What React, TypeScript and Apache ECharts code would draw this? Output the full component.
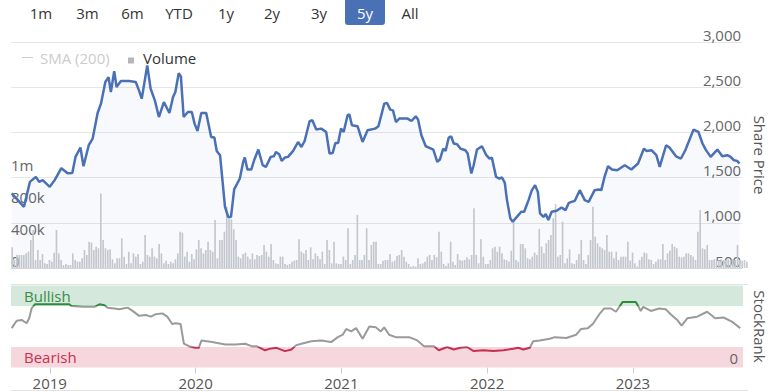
import React, { useEffect, useRef } from "react";
import * as echarts from "echarts";

const FONT = '"Open Sans", "Noto Sans", sans-serif';

// ---------- data ----------
const rangeButtons = ["1m", "3m", "6m", "YTD", "1y", "2y", "3y", "5y", "All"];
const selectedRange = "5y";
const yearTicks = [2019, 2020, 2021, 2022, 2023];
const volumeTickLabels = ["0", "400k", "800k", "1m"];

// dates as decimal years
const priceDates = [
  2018.739, 2018.823, 2018.864, 2018.905, 2018.927, 2018.952, 2019.0, 2019.034, 2019.08, 2019.123,
  2019.155, 2019.177, 2019.211, 2019.232, 2019.268, 2019.295, 2019.329, 2019.352, 2019.382, 2019.404,
  2019.42, 2019.443, 2019.459, 2019.489, 2019.545, 2019.591, 2019.613, 2019.632, 2019.67, 2019.693,
  2019.722, 2019.75, 2019.784, 2019.822, 2019.847, 2019.863, 2019.886, 2019.901, 2019.92, 2019.949,
  2019.976, 2019.995, 2020.015, 2020.041, 2020.075, 2020.109, 2020.131, 2020.147, 2020.17, 2020.204,
  2020.227, 2020.245, 2020.267, 2020.306, 2020.329, 2020.34, 2020.358, 2020.385, 2020.404, 2020.433,
  2020.463, 2020.485, 2020.518, 2020.54, 2020.554, 2020.576, 2020.593, 2020.615, 2020.637, 2020.672,
  2020.706, 2020.729, 2020.751, 2020.785, 2020.804, 2020.831, 2020.865, 2020.899, 2020.922, 2020.944,
  2020.962, 2020.981, 2021.001, 2021.019, 2021.046, 2021.058, 2021.076, 2021.115, 2021.149, 2021.183,
  2021.235, 2021.258, 2021.298, 2021.317, 2021.339, 2021.358, 2021.378, 2021.401, 2021.458, 2021.485,
  2021.514, 2021.53, 2021.553, 2021.583, 2021.605, 2021.635, 2021.662, 2021.68, 2021.703, 2021.719,
  2021.741, 2021.758, 2021.775, 2021.798, 2021.821, 2021.855, 2021.871, 2021.896, 2021.912, 2021.935,
  2021.969, 2021.999, 2022.021, 2022.037, 2022.066, 2022.089, 2022.107, 2022.126, 2022.141, 2022.164,
  2022.18, 2022.209, 2022.239, 2022.259, 2022.289, 2022.312, 2022.334, 2022.353, 2022.368, 2022.391,
  2022.407, 2022.425, 2022.448, 2022.482, 2022.516, 2022.543, 2022.566, 2022.584, 2022.607, 2022.641,
  2022.675, 2022.702, 2022.743, 2022.77, 2022.789, 2022.811, 2022.835, 2022.862, 2022.898, 2022.95,
  2022.995, 2023.041, 2023.082, 2023.099, 2023.133, 2023.167, 2023.19, 2023.234, 2023.257, 2023.302,
  2023.336, 2023.366, 2023.422, 2023.456, 2023.484, 2023.506, 2023.54, 2023.586, 2023.62, 2023.654,
  2023.677, 2023.7, 2023.722, 2023.738,
];
const priceValues = [
  1325, 1177, 1453, 1508, 1453, 1472, 1398, 1472, 1604, 1549,
  1552, 1729, 1833, 1626, 1858, 1932, 2215, 2318, 2557, 2612,
  2446, 2678, 2502, 2568, 2568, 2557, 2465, 2373, 2741, 2484,
  2355, 2170, 2336, 2215, 2391, 2446, 2656, 2620, 2170, 2226,
  2226, 2097, 2016, 2215, 2215, 1950, 1943, 1795, 1748, 1177,
  1060, 1066, 1369, 1490, 1674, 1722, 1590, 1590, 1692, 1810,
  1637, 1618, 1729, 1736, 1784, 1759, 1685, 1722, 1729, 1795,
  1894, 1839, 1905, 2123, 2134, 2031, 2042, 2005, 1766, 1773,
  1883, 1883, 2042, 2005, 2189, 2200, 2079, 2068, 1894, 2024,
  2042, 2068, 2318, 2325, 2252, 2244, 2115, 2153, 2153, 2126,
  2178, 2142, 1968, 1847, 1832, 1810, 1674, 1700, 1821, 1795,
  1943, 1957, 1877, 1869, 1821, 1803, 1766, 1545, 1637, 1810,
  1847, 1748, 1711, 1722, 1508, 1490, 1501, 1442, 1251, 1049,
  1011, 1066, 1122, 1122, 1251, 1361, 1416, 1342, 1104, 1066,
  1096, 1030, 1122, 1133, 1170, 1140, 1221, 1232, 1243, 1361,
  1251, 1232, 1361, 1369, 1361, 1508, 1626, 1590, 1582, 1637,
  1590, 1656, 1821, 1795, 1803, 1748, 1618, 1858, 1832, 1736,
  1711, 1803, 2031, 2005, 1877, 1810, 1729, 1810, 1736, 1748,
  1729, 1692, 1685, 1656,
];

// weekly volume, in thousands of shares
const volumeK = [
  260, 100, 163, 163, 163, 163, 183, 204, 350, 475, 100, 225, 100, 175, 58, 50, 100, 79, 192, 475,
  183, 100, 38, 50, 38, 38, 183, 100, 79, 79, 121, 225, 163, 329, 317, 225, 267, 246, 933, 350,
  246, 225, 233, 108, 58, 121, 121, 371, 142, 50,
  204, 58, 183, 142, 175, 50, 79, 413, 163, 142, 246, 142, 121, 300, 183, 58, 92, 50, 79, 58,
  108, 183, 454, 442, 142, 204, 79, 175, 108, 233, 350, 246, 183, 225, 329, 225, 204, 600, 121, 350,
  350, 454, 767, 608, 608, 483, 350, 142, 121, 175, 192, 142, 108, 183,
  108, 163, 150, 163, 288, 204, 142, 300, 100, 58, 50, 142, 142, 50, 38, 50, 79, 92, 100, 358,
  204, 183, 225, 100, 258, 108, 183, 150, 108, 204, 50, 350, 225, 58, 329, 58, 50, 50, 142, 100,
  496, 50, 100, 163, 663, 100, 100, 163, 496, 100, 288, 329,
  329, 50, 50, 92, 100, 100, 175, 79, 92, 150, 163, 225, 142, 79, 50, 17, 25, 17, 121, 50,
  58, 79, 142, 163, 100, 163, 133, 454, 204, 50, 25, 58, 329, 79, 38, 175, 100, 92, 100, 133,
  108, 163, 746, 163, 58, 358, 142, 50, 50, 100, 246, 267, 204,
  267, 183, 108, 100, 79, 217, 600, 100, 79, 300, 300, 246, 121, 108, 142, 192, 163, 488, 267, 183,
  308, 350, 413, 621, 800, 142, 163, 579, 58, 121, 233, 58, 50, 100, 175, 350, 100, 50, 163, 350,
  767, 392, 308, 267, 246, 225, 413, 204, 204, 121, 204, 100, 142, 142,
  142, 329, 92, 192, 58, 17, 100, 142, 192, 183, 108, 100, 50, 79, 108, 108, 300, 100, 183, 217,
  300, 267, 246, 142, 133, 142, 183, 183, 163, 142, 100, 454, 725, 246, 233, 288, 100, 100, 108, 108,
  100, 108, 100, 100, 108, 100, 108, 100, 288, 100, 92, 100, 79,
];

const rankDates = [
  2018.739, 2018.773, 2018.807, 2018.841, 2018.859, 2018.875, 2018.898, 2018.978, 2019.057, 2019.136,
  2019.148, 2019.227, 2019.307, 2019.341, 2019.375, 2019.397, 2019.443, 2019.477, 2019.534, 2019.568,
  2019.613, 2019.659, 2019.693, 2019.727, 2019.772, 2019.806, 2019.84, 2019.863, 2019.897, 2019.92,
  2019.954, 2019.999, 2020.022, 2020.041, 2020.113, 2020.204, 2020.272, 2020.34, 2020.385, 2020.419,
  2020.477, 2020.511, 2020.556, 2020.613, 2020.658, 2020.688, 2020.726, 2020.794, 2020.862, 2020.93,
  2020.976, 2021.01, 2021.033, 2021.067, 2021.101, 2021.146, 2021.192, 2021.237, 2021.271, 2021.294,
  2021.328, 2021.373, 2021.465, 2021.521, 2021.567, 2021.635, 2021.669, 2021.726, 2021.771, 2021.816,
  2021.862, 2021.908, 2021.976, 2022.044, 2022.112, 2022.18, 2022.214, 2022.248, 2022.293, 2022.316,
  2022.361, 2022.43, 2022.464, 2022.543, 2022.611, 2022.645, 2022.691, 2022.725, 2022.77, 2022.804,
  2022.85, 2022.884, 2022.93, 2022.975, 2023.02, 2023.039, 2023.054, 2023.071, 2023.123, 2023.179,
  2023.225, 2023.259, 2023.304, 2023.334, 2023.373, 2023.441, 2023.509, 2023.565, 2023.622, 2023.679,
  2023.736,
];
const rankValues = [
  48, 57, 58, 54, 60, 72, 77, 77, 77, 77,
  75, 74, 74, 77, 76, 73, 72, 71, 73, 69,
  63, 64, 62, 65, 66, 62, 53, 54, 53, 29,
  26, 24, 24, 33, 31, 28, 28, 29, 26, 26,
  21, 23, 24, 20, 22, 27, 29, 32, 33, 31,
  37, 40, 47, 44, 48, 35, 50, 49, 44, 49,
  40, 37, 37, 33, 26, 26, 21, 25, 22, 24,
  25, 20, 21, 20, 21, 23, 24, 22, 24, 32,
  33, 35, 37, 36, 40, 47, 48, 53, 65, 72,
  72, 68, 80, 80, 80, 74, 69, 74, 69, 72,
  71, 65, 58, 51, 60, 62, 68, 60, 61, 56,
  48,
];
const bullishLevel = 75;
const bearishLevel = 25;

// ---------- layout ----------
const X_MIN = 2018.734;
const X_MAX = 2023.756;
const buttonCenters = [41, 87.5, 132.5, 179, 226, 272, 319, 365, 410];

export default function App() {
  const ref = useRef<HTMLDivElement>(null);

  useEffect(() => {
    document.body.style.margin = "0";
    const chart = echarts.init(ref.current!, null, { renderer: "svg" });

    const buttonGraphics: any[] = [];
    rangeButtons.forEach((label, i) => {
      const sel = label === selectedRange;
      if (sel) {
        buttonGraphics.push({
          type: "rect",
          shape: { x: buttonCenters[i] - 20, y: -4, width: 40, height: 29, r: 3 },
          style: { fill: "#4a70b5" },
        });
      }
      buttonGraphics.push({
        type: "text",
        x: buttonCenters[i],
        y: 13,
        style: {
          text: label,
          fill: sel ? "#ffffff" : "#333333",
          font: `15px ${FONT}`,
          textAlign: "center",
          textVerticalAlign: "middle",
        },
      });
    });

    const volumeFormatter = (v: number) => {
      const idx = Math.round(v / 400000);
      return volumeTickLabels[idx] ?? "";
    };

    const option: any = {
      animation: false,
      textStyle: { fontFamily: FONT },
      grid: [
        { left: 11, right: 27, top: 42, height: 226 },
        { left: 11, right: 27, top: 172, height: 96 },
        { left: 11, right: 27, top: 285.5, height: 82 },
      ],
      xAxis: [
        {
          gridIndex: 0,
          type: "value",
          min: X_MIN,
          max: X_MAX,
          axisLine: { show: true, lineStyle: { color: "#d6d6d6" } },
          axisTick: { show: false },
          axisLabel: { show: false },
          splitLine: { show: false },
        },
        {
          gridIndex: 1,
          type: "category",
          data: volumeK.map((_, i) => String(i)),
          show: false,
          boundaryGap: true,
        },
        {
          gridIndex: 2,
          type: "value",
          min: X_MIN,
          max: X_MAX,
          axisLine: { show: false },
          axisTick: {
            show: true,
            customValues: yearTicks,
            length: 6,
            lineStyle: { color: "#cccccc" },
          },
          axisLabel: {
            customValues: yearTicks,
            formatter: (v: number) => String(Math.round(v)),
            color: "#555555",
            fontSize: 15,
            fontFamily: FONT,
            margin: 8,
          },
          splitLine: { show: false },
        },
      ],
      yAxis: [
        {
          gridIndex: 0,
          type: "value",
          position: "right",
          min: 500,
          max: 3000,
          interval: 500,
          name: "Share Price",
          nameLocation: "middle",
          nameRotate: -90,
          nameGap: 9,
          nameTextStyle: { color: "#555555", fontSize: 15, fontFamily: FONT },
          axisLine: { show: false },
          axisTick: { show: false },
          axisLabel: {
            inside: true,
            verticalAlign: "bottom",
            margin: 1,
            color: "#666666",
            fontSize: 15,
            fontFamily: FONT,
            formatter: (v: number) => v.toLocaleString("en-US"),
          },
          splitLine: { show: true, lineStyle: { color: "#e6e6e6" } },
        },
        {
          gridIndex: 1,
          type: "value",
          position: "left",
          min: 0,
          max: 1200000,
          interval: 400000,
          axisLine: { show: false },
          axisTick: { show: false },
          axisLabel: {
            inside: true,
            verticalAlign: "bottom",
            margin: 0,
            color: "#666666",
            fontSize: 15,
            fontFamily: FONT,
            formatter: volumeFormatter,
          },
          splitLine: { show: false },
        },
        {
          gridIndex: 2,
          type: "value",
          position: "right",
          min: 0,
          max: 100,
          z: 10,
          name: "StockRank",
          nameLocation: "middle",
          nameRotate: -90,
          nameGap: 6,
          nameTextStyle: { color: "#555555", fontSize: 15, fontFamily: FONT },
          axisLine: { show: false },
          axisTick: { show: false },
          axisLabel: {
            inside: true,
            customValues: [0],
            formatter: (v: number) => String(v),
            verticalAlign: "bottom",
            margin: 5,
            color: "#666666",
            fontSize: 15,
            fontFamily: FONT,
            padding: [0, 0, 2, 0],
          },
          splitLine: { show: false },
        },
      ],
      visualMap: [
        {
          type: "piecewise",
          show: false,
          seriesIndex: 3,
          dimension: 1,
          pieces: [
            { lte: bearishLevel, color: "#c8304e" },
            { gt: bearishLevel, lte: bullishLevel + 0.5, color: "#9a9a9a" },
            { gt: bullishLevel + 0.5, color: "#2e8b3a" },
          ],
        },
      ],
      series: [
        {
          type: "bar",
          xAxisIndex: 1,
          yAxisIndex: 1,
          data: volumeK.map((v) => v * 1000),
          itemStyle: { color: "#c9cacf" },
          barCategoryGap: "30%",
          silent: true,
          z: 1,
        },
        {
          type: "line",
          xAxisIndex: 0,
          yAxisIndex: 0,
          data: priceDates.map((d, i) => [d, priceValues[i]]),
          showSymbol: false,
          lineStyle: { color: "#4a70b5", width: 2.5 },
          itemStyle: { color: "#4a70b5" },
          areaStyle: { color: "rgba(74,112,181,0.055)", origin: "start" },
          silent: true,
          z: 3,
        },
        {
          type: "line",
          xAxisIndex: 2,
          yAxisIndex: 2,
          data: rankDates.map((d, i) => [d, rankValues[i]]),
          showSymbol: false,
          lineStyle: { opacity: 0 },
          silent: true,
          z: 0,
          markArea: {
            silent: true,
            data: [
              [
                {
                  yAxis: bullishLevel,
                  itemStyle: { color: "#d5e8dc" },
                  label: {
                    show: true,
                    position: "insideLeft",
                    distance: 13,
                    formatter: "Bullish",
                    color: "#3a8c45",
                    fontSize: 15,
                    fontFamily: FONT,
                  },
                },
                { yAxis: 100 },
              ],
              [
                {
                  yAxis: 0,
                  itemStyle: { color: "#f5d7dd" },
                  label: {
                    show: true,
                    position: "insideLeft",
                    distance: 13,
                    formatter: "Bearish",
                    color: "#c8304e",
                    fontSize: 15,
                    fontFamily: FONT,
                  },
                },
                { yAxis: bearishLevel },
              ],
            ],
          },
        },
        {
          type: "line",
          xAxisIndex: 2,
          yAxisIndex: 2,
          data: rankDates.map((d, i) => [d, rankValues[i]]),
          showSymbol: false,
          lineStyle: { width: 2 },
          silent: true,
          z: 3,
        },
      ],
      graphic: [
        ...buttonGraphics,
        {
          type: "line",
          shape: { x1: 22, y1: 57.5, x2: 33, y2: 57.5 },
          style: { stroke: "#cccccc", lineWidth: 1 },
        },
        {
          type: "text",
          x: 40,
          y: 57.5,
          style: {
            text: "SMA (200)",
            fill: "#cccccc",
            font: `15px ${FONT}`,
            textVerticalAlign: "middle",
          },
        },
        {
          type: "rect",
          shape: { x: 128, y: 57.5, width: 6, height: 6 },
          style: { fill: "#b5b5bb" },
        },
        {
          type: "text",
          x: 143,
          y: 57.5,
          style: {
            text: "Volume",
            fill: "#333333",
            font: `15px ${FONT}`,
            textVerticalAlign: "middle",
          },
        },
        {
          type: "line",
          shape: { x1: 11, y1: 284.5, x2: 748, y2: 284.5 },
          style: { stroke: "#e3e3e3", lineWidth: 1 },
        },
        {
          type: "line",
          shape: { x1: 11, y1: 390.5, x2: 748, y2: 390.5 },
          style: { stroke: "#e3e3e3", lineWidth: 1 },
        },
      ],
    };

    chart.setOption(option);
    return () => chart.dispose();
  }, []);

  return <div ref={ref} style={{ width: 775, height: 392 }} />;
}
